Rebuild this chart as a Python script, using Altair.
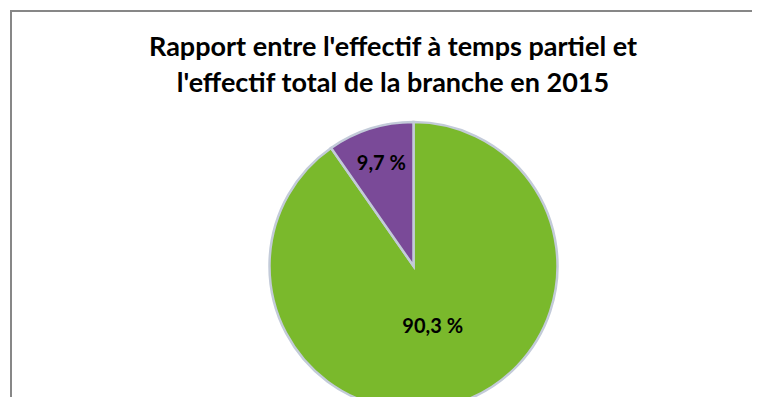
import altair as alt
import pandas as pd

categories = ["Effectif à temps complet", "Effectif à temps partiel"]
values = [90.3, 9.7]
labels = ["90,3 %", "9,7 %"]
colors = ["#7ab92c", "#7a4a98"]

df = pd.DataFrame({"categorie": categories, "valeur": values, "label": labels,
                   "ordre": list(range(len(categories)))})

W, H = 742, 387
CX, CY = 403.5, 256
R = 144

pie = alt.Chart(df).mark_arc(outerRadius=R, stroke="#c3cbd9", strokeWidth=2.5).encode(
    theta=alt.Theta("valeur:Q", stack=True),
    order=alt.Order("ordre:Q"),
    x=alt.value(CX), y=alt.value(CY),
    color=alt.Color("categorie:N", scale=alt.Scale(domain=categories, range=colors), legend=None),
)

lab_base = alt.Chart(df).transform_joinaggregate(
    total="sum(valeur)"
).transform_window(
    cum="sum(valeur)", sort=[alt.SortField("ordre")], frame=[None, 0]
).transform_calculate(
    mid="(datum.cum - datum.valeur / 2) / datum.total"
).encode(
    theta=alt.Theta("mid:Q", stack=None, scale=alt.Scale(domain=[0, 1])),
    x=alt.value(CX), y=alt.value(CY), text="label:N",
)
txt = dict(font="Lato", fontWeight="bold", fontSize=20, color="#000000",
           align="center", baseline="middle")
lab_big = lab_base.mark_text(radius=64, **txt).transform_filter(alt.datum.ordre == 0)
lab_small = lab_base.mark_text(radius=107, **txt).transform_filter(alt.datum.ordre == 1)

frame_left = alt.Chart(df).mark_rule(color="#878787", strokeWidth=2).encode(
    x=alt.value(1), y=alt.value(0), y2=alt.value(H)
)
frame_top = alt.Chart(df).mark_rule(color="#878787", strokeWidth=2).encode(
    x=alt.value(0), x2=alt.value(W), y=alt.value(1)
)

chart = alt.layer(frame_left, frame_top, pie, lab_big, lab_small).resolve_scale(
    theta="independent"
).properties(
    width=W, height=H,
    padding={"left": 2, "top": 2, "right": 0, "bottom": 0},
    autosize=alt.AutoSizeParams(type="none"),
    title=alt.TitleParams(
        text=["Rapport entre l'effectif à temps partiel et", "l'effectif total de la branche en 2015"],
        font="Lato", fontSize=27, fontWeight="bold", color="#000000",
        anchor="middle", frame="group", dx=12, offset=-89, lineHeight=36,
    ),
).configure_view(stroke=None)

chart.save("out.html", embed_options={"renderer": "svg", "actions": False})
